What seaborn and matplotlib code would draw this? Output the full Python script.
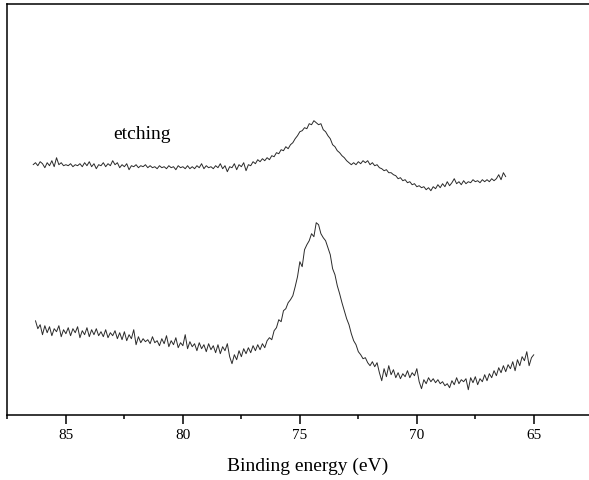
import numpy as np
import pandas as pd
import matplotlib
matplotlib.use("Agg")
import matplotlib.pyplot as plt
from matplotlib.ticker import MultipleLocator
import seaborn as sns

# ---- data (intensity in arbitrary units) ----
etched_start, etched_step = 86.4, 0.1
etched_counts = [
    250, 252, 249, 253, 251, 247, 252, 249, 254, 248,
    257, 250, 252, 249, 250, 249, 251, 248, 250, 249,
    251, 248, 252, 249, 253, 248, 251, 246, 250, 249,
    252, 248, 251, 249, 254, 250, 252, 247, 250, 248,
    251, 245, 249, 248, 250, 247, 249, 248, 250, 247,
    249, 247, 248, 246, 249, 247, 248, 246, 249, 247,
    248, 245, 249, 247, 248, 246, 249, 246, 248, 246,
    249, 247, 251, 246, 249, 247, 248, 246, 249, 247,
    251, 246, 249, 243, 248, 247, 251, 245, 250, 248,
    252, 244, 250, 249, 253, 251, 255, 253, 256, 254,
    257, 255, 259, 258, 262, 261, 265, 264, 268, 266,
    270, 272, 276, 279, 283, 284, 287, 286, 291, 290,
    294, 292, 290, 291, 285, 283, 279, 276, 270, 268,
    264, 262, 259, 257, 254, 252, 250, 252, 250, 253,
    251, 254, 252, 254, 250, 252, 249, 250, 247, 246,
    244, 245, 242, 242, 240, 239, 236, 237, 234, 235,
    232, 233, 230, 231, 228, 229, 227, 228, 225, 227,
    224, 228, 226, 230, 227, 231, 228, 233, 229, 232,
    236, 231, 233, 230, 234, 231, 233, 232, 235, 233,
    234, 232, 235, 233, 235, 233, 236, 234, 236, 240,
    235, 242, 238,
]

asis_start, asis_step = 86.3, 0.1
asis_counts = [
    94, 86, 90, 80, 89, 82, 88, 79, 86, 83,
    89, 78, 85, 81, 87, 79, 86, 82, 88, 77,
    84, 80, 87, 78, 85, 80, 86, 79, 83, 78,
    85, 77, 82, 79, 84, 76, 82, 75, 83, 74,
    80, 76, 85, 70, 78, 72, 76, 73, 75, 71,
    78, 72, 74, 69, 76, 71, 79, 68, 74, 70,
    77, 67, 72, 69, 80, 66, 73, 68, 71, 64,
    72, 66, 70, 63, 71, 65, 69, 62, 70, 61,
    68, 64, 71, 58, 51, 60, 55, 64, 58, 66,
    61, 67, 62, 69, 64, 70, 65, 71, 67, 74,
    77, 75, 84, 87, 95, 93, 104, 106, 112, 115,
    119, 128, 138, 153, 148, 165, 170, 174, 181, 178,
    192, 190, 181, 177, 174, 167, 160, 146, 140, 129,
    121, 112, 104, 96, 90, 81, 74, 70, 63, 60,
    56, 57, 52, 49, 53, 48, 52, 42, 34, 46,
    38, 49, 40, 45, 37, 42, 36, 41, 38, 44,
    37, 42, 39, 46, 33, 26, 35, 31, 37, 33,
    36, 32, 35, 31, 33, 29, 31, 27, 34, 30,
    37, 31, 35, 33, 36, 25, 37, 32, 38, 30,
    36, 33, 40, 34, 41, 37, 44, 39, 47, 42,
    49, 43, 50, 46, 53, 44, 55, 49, 58, 54,
    63, 49, 57, 60,
]

x_ticks = [85, 80, 75, 70, 65]
x_label = "Binding energy (eV)"
annotation = "etching"

# ---- build tidy table ----
etched_be = etched_start - etched_step * np.arange(len(etched_counts))
asis_be = asis_start - asis_step * np.arange(len(asis_counts))
df = pd.concat([
    pd.DataFrame({"be": etched_be, "counts": etched_counts, "sample": "etched"}),
    pd.DataFrame({"be": asis_be, "counts": asis_counts, "sample": "as-deposited"}),
], ignore_index=True)

sns.set_theme(style="white")
plt.rcParams["font.family"] = ["Liberation Serif", "DejaVu Serif"]

W, H = 589, 481
fig = plt.figure(figsize=(W / 100, H / 100), dpi=100)
left_px, right_px, top_px, bottom_px = 6.7, 592.3, 5.0, 415.7
ax = fig.add_axes([left_px / W, 1 - bottom_px / H,
                   (right_px - left_px) / W, (bottom_px - top_px) / H])

sns.lineplot(data=df, x="be", y="counts", hue="sample", units="sample",
             estimator=None, sort=False, palette=["#2a2a2a", "#2a2a2a"],
             linewidth=0.7, legend=False, ax=ax)

ax.set_xlim(87.53, 62.5)
ax.set_ylim(0, bottom_px - top_px)
ax.set_yticks([])
ax.set_ylabel("")
ax.xaxis.set_major_locator(MultipleLocator(5))
ax.xaxis.set_minor_locator(MultipleLocator(2.5))
ax.set_xticks(x_ticks)
ax.set_xticklabels([str(t) for t in x_ticks])
ax.tick_params(axis="x", which="major", direction="out", length=6.5, width=1.1,
               color="black", bottom=True, labelsize=11, pad=3.0,
               labelcolor="black")
ax.tick_params(axis="x", which="minor", direction="out", length=3.0, width=1.1,
               color="black", bottom=True)
for side in ["left", "top", "bottom"]:
    ax.spines[side].set_visible(True)
    ax.spines[side].set_color("black")
    ax.spines[side].set_linewidth(1.1)
ax.spines["right"].set_visible(False)

ax.set_xlabel(x_label, fontsize=14, color="black")
ax.xaxis.set_label_coords((308 - left_px) / (right_px - left_px), -0.103)

ax.text(82.98, 276.7, annotation, fontsize=14, ha="left", va="baseline",
        color="black")

fig.savefig("out.png", dpi=100)
